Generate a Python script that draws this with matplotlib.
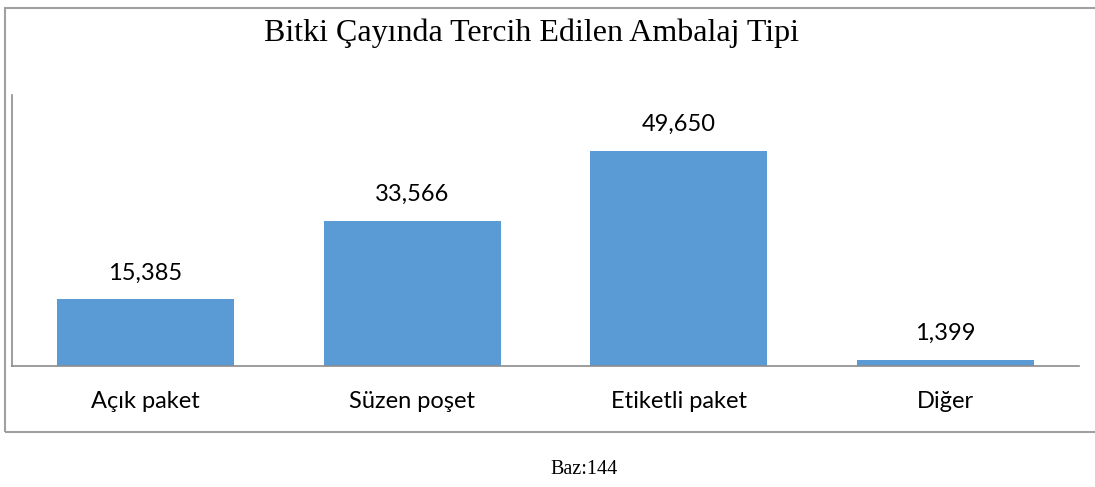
import matplotlib
matplotlib.use("Agg")
import matplotlib.pyplot as plt
from matplotlib.patches import Rectangle

categories = ["Açık paket", "Süzen poşet", "Etiketli paket", "Diğer"]
values = [15.385, 33.566, 49.650, 1.399]
title = "Bitki Çayında Tercih Edilen Ambalaj Tipi"
footnote = "Baz:144"

W, H = 1095, 487
fig = plt.figure(figsize=(W / 100, H / 100), dpi=100)

# chart border
fig.patches.append(Rectangle((5 / W, 1 - 432 / H), 1.2, (432 - 8) / H,
                             transform=fig.transFigure, fill=False,
                             edgecolor="#a0a0a0", linewidth=1.5))

ax = fig.add_axes([12 / W, 1 - 366 / H, 1067 / W, 271 / H])
x = range(len(categories))
bars = ax.bar(x, values, width=0.664, color="#5b9bd5")
ax.set_xlim(-0.5, len(categories) - 0.5)
ax.set_ylim(0, 62.6)
for s in ["top", "right"]:
    ax.spines[s].set_visible(False)
for s in ["left", "bottom"]:
    ax.spines[s].set_color("#8c8c8c")
    ax.spines[s].set_linewidth(1.2)
ax.set_yticks([])
ax.set_xticks(list(x))
ax.set_xticklabels(categories, fontfamily="Lato", fontsize=17)
ax.tick_params(axis="x", length=0, pad=18)

for xi, v in zip(x, values):
    ax.annotate(f"{v:.3f}".replace(".", ","), (xi, v), xytext=(0, 19),
                textcoords="offset points", ha="center", va="center",
                fontfamily="Lato", fontsize=17)

fig.text(531 / W, 1 - 33 / H, title, ha="center", va="center",
         fontfamily="Liberation Serif", fontsize=23)
fig.text(584 / W, 1 - 470 / H, footnote, ha="center", va="center",
         fontfamily="Liberation Serif", fontsize=14.5)

fig.savefig("out.png", dpi=100)
